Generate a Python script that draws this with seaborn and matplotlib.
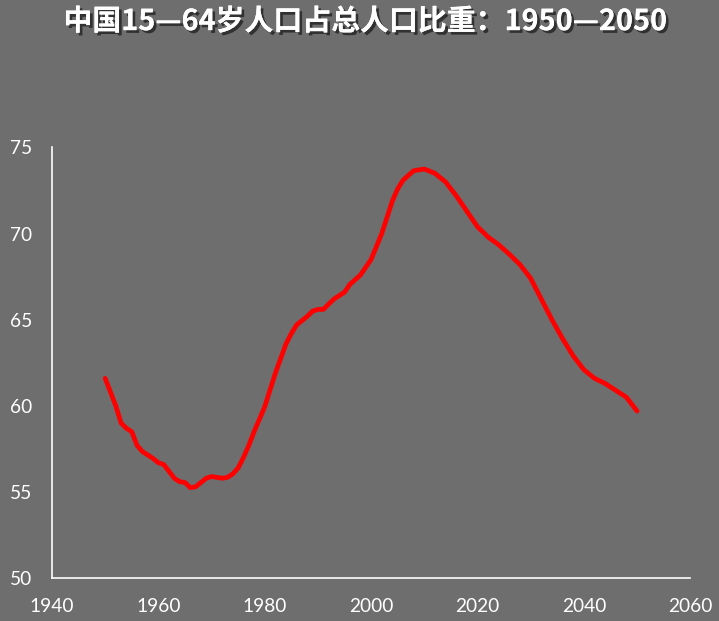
import pandas as pd
import matplotlib.pyplot as plt
import matplotlib.patheffects as pe
import seaborn as sns

years = [1950, 1952, 1953, 1954, 1955, 1956, 1957, 1958, 1959, 1960,
         1961, 1962, 1963, 1964, 1965, 1966, 1967, 1968, 1969, 1970,
         1971, 1972, 1973, 1974, 1975, 1976, 1977, 1978, 1980, 1982,
         1984, 1985, 1986, 1988, 1989, 1990, 1991, 1992, 1993, 1994,
         1995, 1996, 1998, 2000, 2002, 2004, 2005, 2006, 2008, 2010,
         2012, 2014, 2016, 2018, 2020, 2022, 2024, 2026, 2028, 2030,
         2032, 2034, 2036, 2038, 2040, 2042, 2044, 2046, 2048, 2050]
share = [61.6, 60.0, 59.0, 58.7, 58.5, 57.7, 57.35, 57.15, 56.95, 56.7,
         56.6, 56.2, 55.8, 55.6, 55.55, 55.25, 55.3, 55.55, 55.8, 55.9,
         55.85, 55.8, 55.85, 56.05, 56.4, 57.0, 57.7, 58.5, 59.95, 61.9,
         63.6, 64.2, 64.7, 65.2, 65.5, 65.6, 65.6, 65.9, 66.2, 66.4,
         66.6, 67.05, 67.6, 68.5, 70.0, 71.9, 72.6, 73.1, 73.65, 73.75,
         73.5, 73.0, 72.2, 71.3, 70.4, 69.8, 69.35, 68.8, 68.2, 67.4,
         66.2, 65.0, 63.9, 62.9, 62.1, 61.6, 61.3, 60.9, 60.5, 59.7]
x_ticks = [1940, 1960, 1980, 2000, 2020, 2040, 2060]
y_ticks = [50, 55, 60, 65, 70, 75]
title = '中国15—64岁人口占总人口比重：1950—2050'

df = pd.DataFrame({'year': years, 'share': share})

sns.set_style('white')
bg = '#6e6e6e'
plt.rcParams['font.family'] = ['Lato', 'DejaVu Sans']

fig = plt.figure(figsize=(7.19, 6.21), dpi=100, facecolor=bg)
ax = fig.add_axes([0.0723, 0.069, 0.8877, 0.6935])
ax.set_facecolor(bg)

sns.lineplot(data=df, x='year', y='share', color='#ff0000', linewidth=3.4, ax=ax)

ax.set_xlim(1940, 2060)
ax.set_ylim(50, 75)
ax.set_xticks(x_ticks)
ax.set_yticks(y_ticks)
ax.set_xlabel('')
ax.set_ylabel('')
ax.tick_params(colors='white', labelsize=13.8, length=0)
ax.tick_params(axis='x', pad=14)
ax.tick_params(axis='y', pad=14)
for s in ['top', 'right']:
    ax.spines[s].set_visible(False)
for s in ['left', 'bottom']:
    ax.spines[s].set_color('white')
    ax.spines[s].set_linewidth(1.2)

fig.text(0.508, 0.966, title, ha='center', va='center', color='white',
         fontsize=20.8, fontweight='bold', family=['Noto Sans CJK SC', 'DejaVu Sans'],
         path_effects=[pe.withSimplePatchShadow(offset=(2, -2), shadow_rgbFace='#222222', alpha=0.8),
                       pe.Normal()])

fig.savefig('out.png', dpi=100, facecolor=bg)
